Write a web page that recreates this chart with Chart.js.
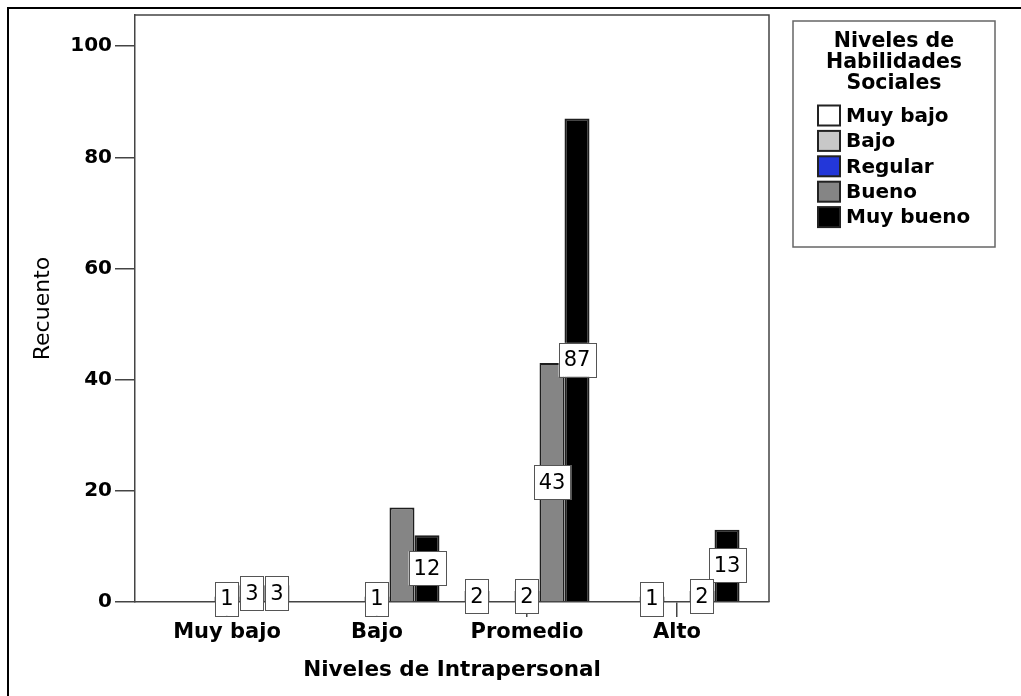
<!DOCTYPE html>
<html lang="es">
<head>
<meta charset="utf-8">
<title>Niveles de Intrapersonal</title>
<script src="https://cdn.jsdelivr.net/npm/chart.js@4.4.1/dist/chart.umd.min.js"></script>
<style>
    html, body { margin: 0; padding: 0; background: #fff; }
    #wrap { width: 1021px; height: 696px; }
</style>
</head>
<body>
<div id="wrap"><canvas id="chart" width="1021" height="696"></canvas></div>
<script>
(function () {
    'use strict';

    // x axis: Niveles de Intrapersonal
    const categories = ['Muy bajo', 'Bajo', 'Promedio', 'Alto'];
    // series: Niveles de Habilidades Sociales
    const seriesNames = ['Muy bajo', 'Bajo', 'Regular', 'Bueno', 'Muy bueno'];
    const seriesColors = ['#ffffff', '#c8c8c8', '#2337d9', '#858585', '#000000'];
    // counts per series, in category order
    const muyBajo  = [0, 0, 2, 0];
    const bajo     = [0, 0, 0, 1];
    const regular  = [1, 1, 2, 0];
    const bueno    = [3, 17, 43, 2];
    const muyBueno = [3, 12, 87, 13];
    const yTicks = [0, 20, 40, 60, 80, 100];

    const FONT = '"DejaVu Sans", Verdana, sans-serif';
    const AXIS = '#444';

    const seriesValues = [muyBajo, bajo, regular, bueno, muyBueno];
    const datasets = seriesValues.map((vals, i) => ({
        label: seriesNames[i],
        data: vals.map((v, k) => ({ x: k, y: v })),
        backgroundColor: seriesColors[i],
        borderColor: '#1e1e1e',
        borderWidth: 2,
        categoryPercentage: 0.833,
        barPercentage: 1
    }));

    function _overlap(a, b) {
        const w = Math.min(a.r, b.r) - Math.max(a.l, b.l);
        const h = Math.min(a.b, b.b) - Math.max(a.t, b.t);
        return (w > 0 && h > 0) ? w * h : 0;
    }

    // SPSS-style value boxes, centred in each bar; hides a box that collides
    const barLabels = {
        id: 'barLabels',
        afterDatasetsDraw(chart) {
            const ctx = chart.ctx;
            const placed = [];
            ctx.save();
            ctx.font = '21px ' + FONT;
            ctx.textAlign = 'center';
            ctx.textBaseline = 'middle';
            for (let d = chart.data.datasets.length - 1; d >= 0; d--) {
                const meta = chart.getDatasetMeta(d);
                meta.data.forEach((bar, k) => {
                    const v = chart.data.datasets[d].data[k].y;
                    if (!v) return;
                    const text = String(v);
                    const w = ctx.measureText(text).width + 10, h = 34;
                    const cx = bar.x, cy = (bar.y + bar.base) / 2;
                    const box = { l: cx - w / 2, r: cx + w / 2, t: cy - h / 2, b: cy + h / 2 };
                    if (placed.some(p => _overlap(p, box) > 60)) return;
                    placed.push(box);
                    ctx.fillStyle = '#fff';
                    ctx.fillRect(box.l, box.t, w, h);
                    ctx.strokeStyle = '#555';
                    ctx.lineWidth = 1;
                    ctx.strokeRect(Math.round(box.l) + 0.5, Math.round(box.t) + 0.5, Math.round(w), Math.round(h));
                    ctx.fillStyle = '#000';
                    ctx.fillText(text, cx, cy + 1);
                });
            }
            ctx.restore();
        }
    };

    // plot frame, outer picture border and the boxed legend
    const frameAndLegend = {
        id: 'frameAndLegend',
        afterDraw(chart) {
            const ctx = chart.ctx;
            const a = chart.chartArea;
            ctx.save();
            ctx.strokeStyle = AXIS;
            ctx.lineWidth = 1.5;
            ctx.beginPath();
            ctx.moveTo(a.left, a.top);
            ctx.lineTo(a.right, a.top);
            ctx.lineTo(a.right, a.bottom);
            ctx.stroke();

            ctx.strokeStyle = '#000';
            ctx.lineWidth = 2;
            ctx.beginPath();
            ctx.moveTo(8, chart.height);
            ctx.lineTo(8, 8);
            ctx.lineTo(chart.width, 8);
            ctx.stroke();

            // legend
            const L = { l: 793, t: 21, r: 995, b: 247 };
            ctx.strokeStyle = '#666';
            ctx.lineWidth = 1.5;
            ctx.strokeRect(L.l, L.t, L.r - L.l, L.b - L.t);

            ctx.fillStyle = '#000';
            ctx.textBaseline = 'middle';
            ctx.textAlign = 'center';
            ctx.font = 'bold 20.5px ' + FONT;
            ['Niveles de', 'Habilidades', 'Sociales'].forEach((s, i) => {
                ctx.fillText(s, (L.l + L.r) / 2, 42 + i * 20.7);
            });

            ctx.textAlign = 'left';
            ctx.font = 'bold 20px ' + FONT;
            chart.data.datasets.forEach((ds, i) => {
                const y = 115.5 + i * 25.4;
                ctx.fillStyle = ds.backgroundColor;
                ctx.fillRect(818, y - 10, 22, 20);
                ctx.strokeStyle = '#222';
                ctx.lineWidth = 2;
                ctx.strokeRect(818, y - 10, 22, 20);
                ctx.fillStyle = '#000';
                ctx.fillText(ds.label, 846, y + 1);
            });
            ctx.restore();
        }
    };

    new Chart(document.getElementById('chart').getContext('2d'), {
        type: 'bar',
        data: { datasets },
        options: {
            responsive: false,
            animation: false,
            layout: { padding: { left: 0, right: 252, top: 15, bottom: 0 } },
            plugins: {
                legend: { display: false },
                tooltip: { enabled: false }
            },
            scales: {
                x: {
                    type: 'linear',
                    offset: false,
                    min: -0.613,
                    max: 3.613,
                    afterBuildTicks(scale) { scale.ticks = categories.map((_, i) => ({ value: i })); },
                    afterFit(scale) { scale.height = 94; },
                    grid: { offset: false, drawOnChartArea: false, drawTicks: true, tickLength: 15, color: AXIS, lineWidth: 1.5 },
                    border: { display: true, color: AXIS, width: 1.5 },
                    ticks: {
                        autoSkip: false,
                        maxRotation: 0,
                        padding: 3,
                        color: '#000',
                        font: { family: FONT, size: 21, weight: 'bold' },
                        callback: (v) => categories[v] !== undefined ? categories[v] : ''
                    },
                    title: {
                        display: true,
                        text: 'Niveles de Intrapersonal',
                        color: '#000',
                        font: { family: FONT, size: 21.5, weight: 'bold' },
                        padding: { top: 0, bottom: 13 }
                    }
                },
                y: {
                    min: 0,
                    max: 105.6,
                    afterBuildTicks(scale) { scale.ticks = yTicks.map(v => ({ value: v })); },
                    afterFit(scale) { scale.width = 135; },
                    grid: { drawOnChartArea: false, drawTicks: true, tickLength: 20, color: AXIS, lineWidth: 1.5 },
                    border: { display: true, color: AXIS, width: 1.5 },
                    ticks: {
                        padding: 3,
                        color: '#000',
                        font: { family: FONT, size: 20, weight: 'bold' }
                    },
                    title: {
                        display: true,
                        text: 'Recuento',
                        color: '#000',
                        font: { family: FONT, size: 22, weight: 'normal' },
                        padding: { top: 30, bottom: 0 }
                    }
                }
            }
        },
        plugins: [barLabels, frameAndLegend]
    });
})();
</script>
</body>
</html>
